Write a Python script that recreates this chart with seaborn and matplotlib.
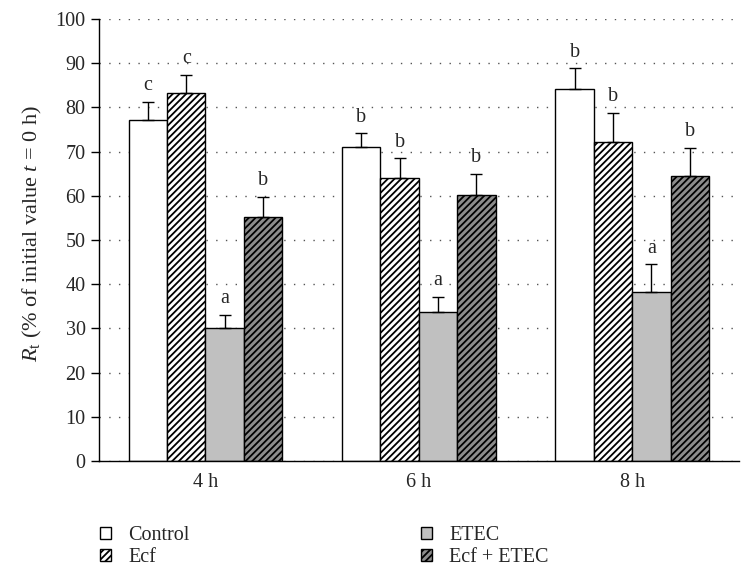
import pandas as pd
import seaborn as sns
import matplotlib.pyplot as plt
from matplotlib.patches import Patch

# data
times = ['4 h', '6 h', '8 h']
groups = ['Control', 'Ecf', 'ETEC', 'Ecf + ETEC']

control_mean = [77.1, 71.1, 84.1]
ecf_mean = [83.3, 64.1, 72.2]
etec_mean = [30.0, 33.8, 38.2]
ecf_etec_mean = [55.2, 60.2, 64.5]

control_err = [4.2, 3.0, 4.7]
ecf_err = [4.0, 4.4, 6.6]
etec_err = [3.0, 3.4, 6.3]
ecf_etec_err = [4.5, 4.7, 6.3]

control_lbl = ['c', 'b', 'b']
ecf_lbl = ['c', 'b', 'b']
etec_lbl = ['a', 'a', 'a']
ecf_etec_lbl = ['b', 'b', 'b']

means = [control_mean, ecf_mean, etec_mean, ecf_etec_mean]
errs = [control_err, ecf_err, etec_err, ecf_etec_err]
lbls = [control_lbl, ecf_lbl, etec_lbl, ecf_etec_lbl]

df = pd.DataFrame({
    'time': times * 4,
    'group': [g for g in groups for _ in times],
    'value': [v for m in means for v in m],
})

colors = ['white', 'white', '#c0c0c0', '#8c8c8c']
hatches = ['', '/////', '', '/////']

sns.set_style('white')
plt.rcParams['font.family'] = ['Liberation Serif', 'DejaVu Serif']
plt.rcParams['mathtext.fontset'] = 'custom'
plt.rcParams['mathtext.rm'] = 'Liberation Serif'
plt.rcParams['mathtext.it'] = 'Liberation Serif:italic'
plt.rcParams['hatch.linewidth'] = 1.3

fs = 14.5

fig = plt.figure(figsize=(7.54, 5.74), dpi=100)
ax = fig.add_axes([0.131, 0.197, 0.849, 0.770])

sns.barplot(data=df, x='time', y='value', hue='group', order=times, hue_order=groups,
            palette=colors, saturation=1, edgecolor='black', linewidth=1,
            width=0.72, errorbar=None, legend=False, ax=ax, zorder=2)

for cont, h, e, lb in zip(ax.containers, hatches, errs, lbls):
    for bar, err, txt in zip(cont, e, lb):
        bar.set_hatch(h)
        x = bar.get_x() + bar.get_width() / 2
        top = bar.get_height()
        ax.errorbar(x, top, yerr=[[0], [err]], fmt='none', ecolor='black',
                    elinewidth=1, capsize=4, capthick=1, zorder=3)
        ax.text(x, top + err + 1.5, txt, ha='center', va='bottom', fontsize=fs)

ax.set_ylim(0, 100)
ax.set_xlim(-0.5, 2.5)
ax.set_yticks(range(0, 101, 10))
ax.set_xticks([-0.5, 0.5, 1.5, 2.5], minor=True)
ax.tick_params(axis='x', which='major', length=0, labelsize=fs, pad=9)
ax.tick_params(axis='x', which='minor', length=6, width=1, direction='out', color='black')
ax.tick_params(axis='y', length=6, width=1, direction='out', color='black', labelsize=fs, left=True)
ax.yaxis.grid(True, linestyle=(0, (1, 6)), color='#555555', linewidth=1.0)
ax.set_axisbelow(True)
sns.despine(ax=ax)
for s in ['left', 'bottom']:
    ax.spines[s].set_color('black')
    ax.spines[s].set_linewidth(1)

ax.set_xlabel('')
ax.set_ylabel(r'$R_\mathrm{t}$ (% of initial value $t$ = 0 h)', fontsize=16, labelpad=6)
ax.yaxis.set_label_coords(-0.085, 0.515)

handles = [Patch(facecolor=c, edgecolor='black', hatch=h, linewidth=1)
           for c, h in zip(colors, hatches)]
fig.legend(handles, groups, ncol=2, loc='upper left', bbox_to_anchor=(0.122, 0.097),
           frameon=False, fontsize=fs, handlelength=0.55, handleheight=0.55,
           handletextpad=0.85, columnspacing=11.5, labelspacing=0.12, borderaxespad=0)

fig.savefig('out.png', dpi=100)
